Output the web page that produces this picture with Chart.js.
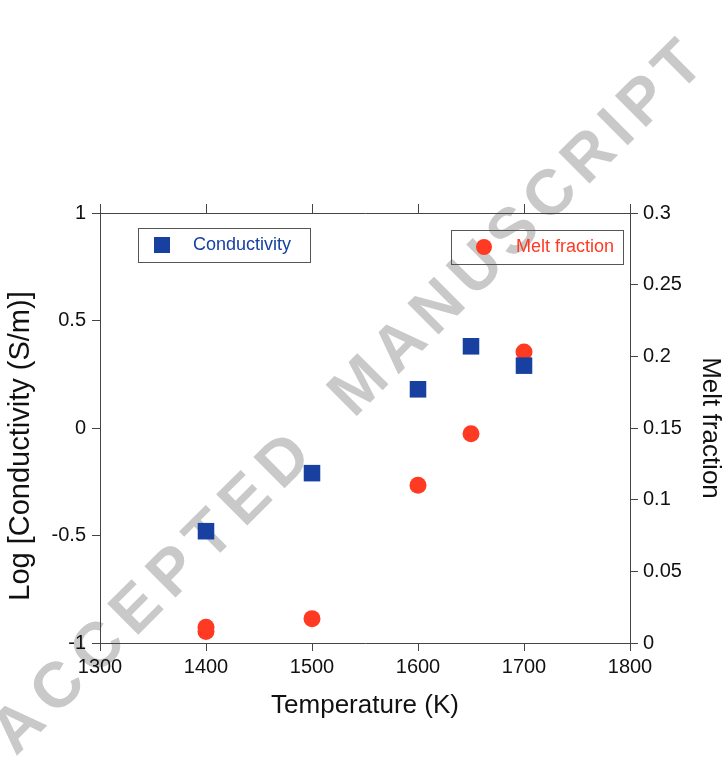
<!DOCTYPE html>
<html lang="en">
<head>
  <meta charset="UTF-8" />
  <title>Conductivity and melt fraction</title>
  <script src="https://cdn.jsdelivr.net/npm/chart.js"></script>
  <style>
    html, body { margin: 0; padding: 0; background: #fff; }
    #wrap { width: 728px; height: 777px; position: relative; }
  </style>
</head>
<body>
<div id="wrap"><canvas id="chart"></canvas></div>

<script>
// data ------------------------------------------------------
const condTemps    = [1400, 1500, 1600, 1650, 1700];
const conductivity = [-0.48, -0.21, 0.18, 0.38, 0.29];   // log S/m

const meltTemps    = [1400, 1400, 1500, 1600, 1650, 1700];
const meltFraction = [0.008, 0.011, 0.017, 0.110, 0.146, 0.203];

const xTicks  = [1300, 1400, 1500, 1600, 1700, 1800];
const yTicks  = [-1, -0.5, 0, 0.5, 1];
const y2Ticks = [0, 0.05, 0.1, 0.15, 0.2, 0.25, 0.3];

const BLUE = '#1840a0';
const RED  = '#ff3a22';
const AXIS = '#444';
const FONT = '"Liberation Sans", Arial, sans-serif';

// helpers ---------------------------------------------------
const fixSize = (prop, val) => s => { s[prop] = val; };
const fmt = v => String(Math.round(v * 100) / 100);

// legend boxes, left title, watermark -----------------------
const decor = {
  id: 'decor',
  beforeDraw(chart) {
    const ctx = chart.ctx;
    ctx.save();
    ctx.translate(352, 396);
    ctx.rotate(-Math.PI / 4);
    ctx.font = 'bold 64px ' + FONT;
    ctx.fillStyle = '#c9c9c9';
    ctx.textAlign = 'left';
    ctx.textBaseline = 'middle';
    ctx.letterSpacing = '10px';
    ctx.fillText('ACCEPTED', -493, 0);
    ctx.letterSpacing = '8px';
    ctx.fillText('MANUSCRIPT', -15, 0);
    ctx.restore();
  },
  afterDraw(chart) {
    const ctx = chart.ctx;
    const a = chart.chartArea;
    ctx.save();

    // y-axis title (sits a little below the axis centre in the original)
    ctx.translate(21, 446);
    ctx.rotate(-Math.PI / 2);
    ctx.font = '29px ' + FONT;
    ctx.fillStyle = '#111';
    ctx.textAlign = 'center';
    ctx.textBaseline = 'middle';
    ctx.fillText('Log [Conductivity (S/m)]', 0, 0);
    ctx.setTransform(1, 0, 0, 1, 0, 0);

    const boxes = [
      { ds: 0, x: a.left + 38, y: a.top + 15, w: 172, h: 34, tx: 55 },
      { ds: 1, x: a.left + 351, y: a.top + 17, w: 172, h: 34, tx: 65 }
    ];
    boxes.forEach(b => {
      const d = chart.data.datasets[b.ds];
      ctx.strokeStyle = '#555';
      ctx.lineWidth = 1;
      ctx.strokeRect(b.x + 0.5, b.y + 0.5, b.w, b.h);
      const cy = b.y + b.h / 2;
      ctx.fillStyle = d.backgroundColor;
      if (d.pointStyle === 'rect') {
        ctx.fillRect(b.x + 16, cy - 8, 16, 16);
      } else {
        ctx.beginPath();
        ctx.arc(b.x + 33, cy, 8, 0, Math.PI * 2);
        ctx.fill();
      }
      ctx.font = '18px ' + FONT;
      ctx.textAlign = 'left';
      ctx.textBaseline = 'middle';
      ctx.fillText(d.label, b.x + b.tx, cy);
    });
    ctx.restore();
  }
};

// chart -----------------------------------------------------
new Chart(document.getElementById('chart'), {
  type: 'scatter',
  data: {
    datasets: [
      { label: 'Conductivity',
        data: condTemps.map((t, i) => ({ x: t, y: conductivity[i] })),
        yAxisID: 'y', pointStyle: 'rect', pointRadius: 11.7, pointHoverRadius: 11.7,
        backgroundColor: BLUE, borderColor: BLUE, borderWidth: 0 },
      { label: 'Melt fraction',
        data: meltTemps.map((t, i) => ({ x: t, y: meltFraction[i] })),
        yAxisID: 'y2', pointStyle: 'circle', pointRadius: 8.5, pointHoverRadius: 8.5,
        backgroundColor: RED, borderColor: RED, borderWidth: 0 }
    ]
  },
  options: {
    responsive: true,
    maintainAspectRatio: false,
    animation: false,
    layout: { padding: 0 },
    plugins: { legend: { display: false }, tooltip: { enabled: false } },
    scales: {
      x: {
        type: 'linear', position: 'bottom', min: 1300, max: 1800,
        afterBuildTicks: s => { s.ticks = xTicks.map(v => ({ value: v })); },
        afterFit: fixSize('height', 134),
        ticks: { color: '#111', font: { family: FONT, size: 20 }, padding: 4, maxRotation: 0,
                 callback: v => String(v) },
        grid: { drawOnChartArea: false, tickLength: 8, color: AXIS },
        border: { color: AXIS },
        title: { display: true, text: 'Temperature (K)', color: '#111',
                 font: { family: FONT, size: 26 }, padding: 56 }
      },
      x2: {
        type: 'linear', position: 'top', min: 1300, max: 1800,
        afterBuildTicks: s => { s.ticks = xTicks.map(v => ({ value: v })); },
        afterFit: fixSize('height', 213),
        ticks: { display: false },
        grid: { drawOnChartArea: false, tickLength: 9, color: AXIS },
        border: { color: AXIS }
      },
      y: {
        position: 'left', min: -1, max: 1,
        afterBuildTicks: s => { s.ticks = yTicks.map(v => ({ value: v })); },
        afterFit: fixSize('width', 100),
        ticks: { color: '#111', font: { family: FONT, size: 20 }, padding: 6, callback: fmt },
        grid: { drawOnChartArea: false, tickLength: 8, color: AXIS },
        border: { color: AXIS }
      },
      y2: {
        position: 'right', min: 0, max: 0.3,
        afterBuildTicks: s => { s.ticks = y2Ticks.map(v => ({ value: v })); },
        afterFit: fixSize('width', 98),
        ticks: { color: '#111', font: { family: FONT, size: 20 }, padding: 5, callback: fmt },
        grid: { drawOnChartArea: false, tickLength: 8, color: AXIS },
        border: { color: AXIS },
        title: { display: true, text: 'Melt fraction', color: '#111',
                 font: { family: FONT, size: 26 }, padding: 2 }
      }
    }
  },
  plugins: [decor]
});
</script>
</body>
</html>
